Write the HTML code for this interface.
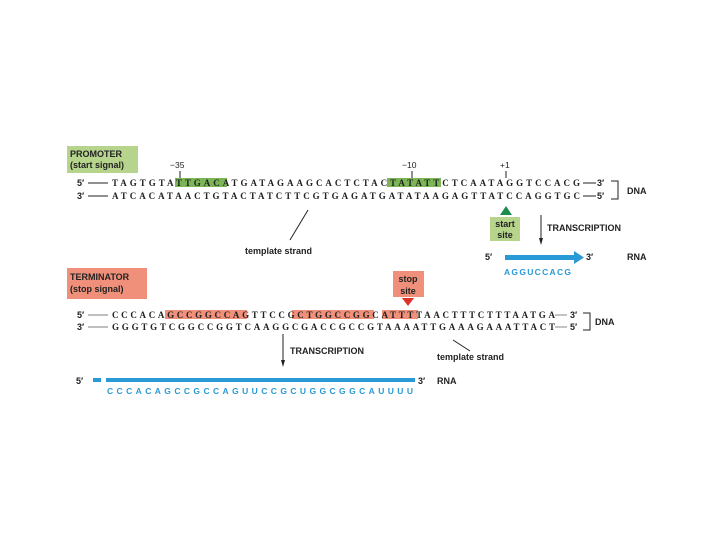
<!DOCTYPE html>
<html><head><meta charset="utf-8"><style>
html,body{margin:0;padding:0;background:#fff;}
svg{display:block;font-family:"Liberation Sans",sans-serif;}
.seq{font-family:"Liberation Serif",serif;font-weight:bold;font-size:9px;fill:#222;}
.lab{font-size:9px;font-weight:bold;fill:#222;}
.rna{font-family:"Liberation Sans",sans-serif;font-size:8.5px;fill:#2a9ad6;font-weight:bold;}
</style></head><body>
<svg width="720" height="540" viewBox="0 0 720 540">
<!-- PROMOTER -->
<rect x="67" y="146" width="71" height="27" fill="#b6d48c"/>
<text x="70" y="157" class="lab">PROMOTER</text>
<text x="70" y="168" class="lab">(start signal)</text>
<text x="170" y="168" font-size="8.5" fill="#222">−35</text>
<line x1="180" y1="171" x2="180" y2="178" stroke="#222"/>
<text x="402" y="168" font-size="8.5" fill="#222">−10</text>
<line x1="412" y1="171" x2="412" y2="178" stroke="#222"/>
<text x="500" y="168" font-size="8.5" fill="#222">+1</text>
<line x1="506" y1="171" x2="506" y2="178" stroke="#222"/>
<rect x="175" y="178" width="52" height="9" fill="#7bb556"/>
<rect x="387" y="178" width="54" height="9" fill="#7bb556"/>
<text x="77" y="186" class="lab">5′</text>
<text x="77" y="199" class="lab">3′</text>
<line x1="88" y1="183" x2="108" y2="183" stroke="#222"/>
<line x1="88" y1="196" x2="108" y2="196" stroke="#222"/>
<text x="112" y="186" class="seq" textLength="468" lengthAdjust="spacing">TAGTGTATTGACATGATAGAAGCACTCTACTATATTCTCAATAGGTCCACG</text>
<text x="112" y="199" class="seq" textLength="468" lengthAdjust="spacing">ATCACATAACTGTACTATCTTCGTGAGATGATATAAGAGTTATCCAGGTGC</text>
<line x1="583" y1="183" x2="596" y2="183" stroke="#222"/>
<line x1="583" y1="196" x2="596" y2="196" stroke="#222"/>
<text x="597" y="186" class="lab">3′</text>
<text x="597" y="199" class="lab">5′</text>
<path d="M611 181 H618 V199 H611" fill="none" stroke="#222"/>
<text x="627" y="194" class="lab">DNA</text>
<!-- start site -->
<polygon points="506,206 500,215 512,215" fill="#1e8a4c"/>
<rect x="490" y="217" width="30" height="24" fill="#b6d48c"/>
<text x="505" y="227" class="lab" text-anchor="middle">start</text>
<text x="505" y="238" class="lab" text-anchor="middle">site</text>
<line x1="541" y1="215" x2="541" y2="240" stroke="#222"/>
<polygon points="541,245 539,238 543,238" fill="#222"/>
<text x="547" y="231" class="lab">TRANSCRIPTION</text>
<text x="485" y="260" class="lab">5′</text>
<rect x="505" y="255" width="70" height="5" fill="#2a9ad6"/>
<polygon points="574,251 584,257.5 574,264" fill="#2a9ad6"/>
<text x="586" y="260" class="lab">3′</text>
<text x="627" y="260" class="lab">RNA</text>
<text x="504" y="275" class="rna" textLength="67" lengthAdjust="spacing">AGGUCCACG</text>
<!-- template strand 1 -->
<line x1="308" y1="210" x2="290" y2="240" stroke="#222"/>
<text x="245" y="254" class="lab">template strand</text>
<!-- TERMINATOR -->
<rect x="67" y="268" width="80" height="31" fill="#f0907a"/>
<text x="70" y="280" class="lab">TERMINATOR</text>
<text x="70" y="292" class="lab">(stop signal)</text>
<rect x="393" y="271" width="31" height="26" fill="#f0907a"/>
<text x="408" y="282" class="lab" text-anchor="middle">stop</text>
<text x="408" y="294" class="lab" text-anchor="middle">site</text>
<polygon points="402,298 414,298 408,306" fill="#e0302a"/>
<rect x="165" y="310" width="82" height="9" fill="#f0907a"/>
<rect x="292" y="310" width="82" height="9" fill="#f0907a"/>
<rect x="382" y="310" width="36" height="9" fill="#f0907a"/>
<text x="77" y="318" class="lab">5′</text>
<text x="77" y="330" class="lab">3′</text>
<line x1="88" y1="315" x2="108" y2="315" stroke="#555" stroke-width="0.7"/>
<line x1="88" y1="327" x2="108" y2="327" stroke="#555" stroke-width="0.7"/>
<text x="112" y="318" class="seq" textLength="443" lengthAdjust="spacing">CCCACAGCCGGCCAGTTCCGCTGGCCGGCATTTTAACTTTCTTTAATGA</text>
<text x="112" y="330" class="seq" textLength="443" lengthAdjust="spacing">GGGTGTCGGCCGGTCAAGGCGACCGCCGTAAAATTGAAAGAAATTACT</text>
<line x1="555" y1="315" x2="567" y2="315" stroke="#555" stroke-width="0.7"/>
<line x1="555" y1="327" x2="567" y2="327" stroke="#555" stroke-width="0.7"/>
<text x="570" y="318" class="lab">3′</text>
<text x="570" y="330" class="lab">5′</text>
<path d="M583 313 H590 V330 H583" fill="none" stroke="#222"/>
<text x="595" y="325" class="lab">DNA</text>
<line x1="283" y1="334" x2="283" y2="362" stroke="#222"/>
<polygon points="283,367 281,360 285,360" fill="#222"/>
<text x="290" y="354" class="lab">TRANSCRIPTION</text>
<line x1="453" y1="340" x2="470" y2="351" stroke="#222"/>
<text x="437" y="360" class="lab">template strand</text>
<rect x="93" y="378" width="8" height="4" fill="#2a9ad6"/>
<rect x="106" y="378" width="309" height="4" fill="#2a9ad6"/>
<text x="76" y="384" class="lab">5′</text>
<text x="418" y="384" class="lab">3′</text>
<text x="437" y="384" class="lab">RNA</text>
<text x="107" y="394" class="rna" textLength="306" lengthAdjust="spacing">CCCACAGCCGCCAGUUCCGCUGGCGGCAUUUU</text>
</svg>
</body></html>
